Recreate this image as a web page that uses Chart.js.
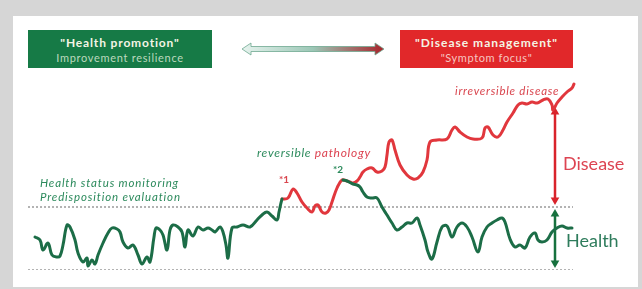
<!DOCTYPE html>
<html>
<head>
<meta charset="utf-8">
<script src="https://cdn.jsdelivr.net/npm/chart.js@4/dist/chart.umd.min.js"></script>
<style>
  html, body { margin: 0; padding: 0; }
  body { width: 642px; height: 289px; background: #d6d6d6; position: relative; overflow: hidden; font-family: Lato, "Open Sans", sans-serif; }
  #panel { position: absolute; left: 13px; top: 16px; width: 625px; height: 271px; background: #fff; }
  #chart { position: absolute; left: 0; top: 0; }
  .box { position: absolute; top: 30px; height: 38px; text-align: center; box-sizing: border-box; padding-top: 5px; }
  .box .t1 { font-weight: bold; font-size: 12px; line-height: 15px; color: #f4f4e4; }
  .box .t2 { font-size: 11px; line-height: 15px; letter-spacing: 0.7px; }
  #boxHealth { left: 28px; width: 184px; background: #167a46; }
  #boxHealth .t1 { letter-spacing: 0.85px; }
  #boxHealth .t2 { color: #bcd9be; }
  #boxDisease { left: 400px; width: 173px; background: #e1282a; }
  #boxDisease .t1 { letter-spacing: 1px; }
  #boxDisease .t2 { color: #f7c6c0; letter-spacing: 0.6px; }
  .lbl { position: absolute; white-space: nowrap; }
  .it { font-style: italic; }
  #monitor { left: 40px; top: 176px; font-size: 11.5px; line-height: 13.5px; color: #2c8a5c; letter-spacing: 0.85px; }
  #reversible { left: 257px; top: 145px; font-size: 12px; letter-spacing: 0.7px; }
  #irrev { left: 455px; top: 84px; font-size: 11.5px; color: #d9454e; letter-spacing: 0.75px; }
  #star1 { left: 279px; top: 173px; font-size: 10px; color: #d9454e; font-weight: bold; }
  #star2 { left: 333px; top: 163px; font-size: 10px; color: #2c8a5c; font-weight: bold; }
  #disease { left: 563px; top: 152px; font-size: 18px; color: #dd4452; }
  #health { left: 566px; top: 229px; font-size: 18px; color: #2e7c5c; }
  svg { position: absolute; left: 0; top: 0; }
</style>
</head>
<body>
<div id="panel"></div>
<svg width="642" height="100">
  <defs>
    <linearGradient id="shaft" x1="0" x2="1" y1="0" y2="0">
      <stop offset="0" stop-color="#e6f3ee"/>
      <stop offset="0.5" stop-color="#9cc7b6"/>
      <stop offset="1" stop-color="#a8232a"/>
    </linearGradient>
  </defs>
  <polygon points="242,49 251,43 251,46.5 375,46.5 375,43 384,49 375,55 375,51.5 251,51.5 251,55"
           fill="url(#shaft)" stroke="#6fa890" stroke-width="0.8"/>
</svg>
<canvas id="chart" width="642" height="289"></canvas>

<div class="box" id="boxHealth"><div class="t1">"Health promotion"</div><div class="t2">Improvement resilience</div></div>
<div class="box" id="boxDisease"><div class="t1">"Disease management"</div><div class="t2">"Symptom focus"</div></div>

<div class="lbl it" id="monitor">Health status monitoring<br>Predisposition evaluation</div>
<div class="lbl it" id="reversible"><span style="color:#2c8a5c">reversible</span> <span style="color:#dd4452">pathology</span></div>
<div class="lbl it" id="irrev">irreversible disease</div>
<div class="lbl" id="star1">*1</div>
<div class="lbl" id="star2">*2</div>
<div class="lbl" id="disease">Disease</div>
<div class="lbl" id="health">Health</div>

<script>
// time runs left to right; level 0 = lower dotted line, 63 = health threshold
const healthTime = [7, 12, 15, 20, 24, 29, 32, 35, 39, 42, 47, 50, 55, 59, 60, 64, 67, 70, 75, 80,
    84, 89, 92, 95, 100, 105, 110, 114, 119, 122, 126, 128, 132, 135, 139, 142, 145, 150, 154, 157,
    160, 165, 170, 175, 180, 184, 187, 192, 195, 198, 200, 204, 209, 215, 222, 229, 234, 239, 244, 249,
    251, 252.5, 254];
const healthLevel = [33, 30, 20, 27, 15, 13, 14, 25, 45, 43, 30, 17, 8, 12, 4, 10, 6, 15, 27, 37,
    42, 41, 38, 28, 22, 25, 15, 6, 13, 8, 33, 42, 40, 35, 20, 40, 45, 43, 38, 23,
    40, 34, 43, 40, 42, 40, 38, 43, 38, 25, 12, 42, 43, 45, 43, 50, 55, 58, 54, 50,
    58, 65, 71];

const diseaseTime = [254, 260, 265, 269, 274, 279, 284, 287, 290, 294, 298, 301, 304, 309, 314, 319,
    322, 325, 329, 332, 335, 339, 344, 349, 354, 357, 359, 361, 364, 367, 372, 379, 385, 390, 395,
    399, 402, 409, 419, 424, 427, 432, 439, 445, 454, 457, 460, 465, 470, 475, 479, 485, 490, 494,
    499, 504, 509, 515, 520, 524, 525, 529, 534, 539, 544, 546];
const diseaseLevel = [71, 72, 81, 77, 68, 62, 58, 64, 65, 58, 57, 60, 68, 82, 90, 89,
    88, 87, 89, 93, 98, 101, 102, 98, 99, 103, 115, 128, 130, 120, 105, 95, 91, 92, 98,
    110, 128, 130, 131, 140, 143, 138, 133, 131, 132, 142, 143, 135, 133, 140, 148, 157, 165, 167,
    166, 168, 167, 170, 171, 165, 160, 167, 173, 178, 182, 186];

const recoveryTime = [315, 319, 325, 329, 332, 335, 339, 344, 349, 354, 359, 364, 369, 374, 379, 384,
    389, 392, 397, 400, 404, 409, 414, 419, 424, 429, 434, 439, 444, 450, 454, 459, 464, 469, 474,
    477, 482, 487, 492, 497, 502, 507, 510, 514, 519, 524, 529, 534, 539, 544];
const recoveryLevel = [90, 89, 86, 85, 83, 78, 73, 72, 72, 63, 55, 47, 40, 43, 47, 47,
    52, 45, 30, 18, 11, 28, 43, 44, 33, 43, 47, 43, 33, 18, 33, 43, 47, 50, 52,
    48, 31, 23, 25, 22, 33, 37, 30, 28, 30, 38, 42, 44, 42, 42];

const bandLevels = [0, 63];
const bandSpan = [0, 545];
const arrowTime = 527;
const diseaseArrow = [158, 70];
const healthArrow = [56, 7];

const GREEN = '#1c6d47';
const RED = '#e1373d';

const pts = (xs, ys) => xs.map((x, i) => ({ x, y: ys[i] }));

const curve = (data, color, order) => ({
    data, borderColor: color, borderWidth: 3, pointRadius: 0, tension: 0.4,
    borderCapStyle: 'round', borderJoinStyle: 'round', clip: false, order,
});

const band = level => ({
    data: bandSpan.map(x => ({ x, y: level })),
    borderColor: '#9a9a9a', borderWidth: 1.5, borderDash: [2, 2], pointRadius: 0, order: 5,
});

const arrow = (span, color) => ({
    data: span.map(y => ({ x: arrowTime, y })),
    borderColor: color, borderWidth: 2.5, pointStyle: 'triangle', pointRotation: [0, 180],
    pointRadius: 5, pointBackgroundColor: color, pointBorderWidth: 0, clip: false, order: 3,
});

new Chart(document.getElementById('chart').getContext('2d'), {
    type: 'line',
    data: {
        datasets: [
            curve(pts(recoveryTime, recoveryLevel), GREEN, 0),
            curve(pts(healthTime, healthLevel), GREEN, 0),
            curve(pts(diseaseTime, diseaseLevel), RED, 1),
            arrow(diseaseArrow, '#d9232b'),
            arrow(healthArrow, '#17713e'),
            ...bandLevels.map(band),
        ],
    },
    options: {
        responsive: false,
        animation: false,
        layout: { padding: { left: 28, right: 69, top: 80, bottom: 19 } },
        plugins: { legend: { display: false }, tooltip: { enabled: false } },
        scales: {
            x: { type: 'linear', min: 0, max: 545, display: false },
            y: { min: 0, max: 190, display: false },
        },
    },
});
</script>
</body>
</html>
